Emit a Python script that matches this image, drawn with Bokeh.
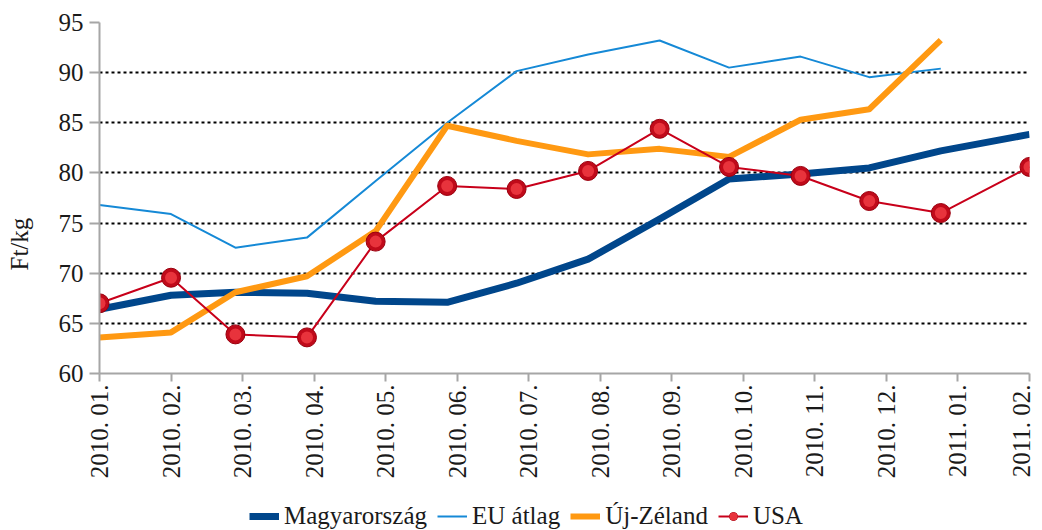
from math import pi
from bokeh.plotting import figure
from bokeh.layouts import column
from bokeh.models import Legend, LegendItem, FixedTicker, Range1d, Title, LinearAxis
from bokeh.embed import file_html
from bokeh.resources import INLINE

# ---- data ----
months = ["2010. 01.", "2010. 02.", "2010. 03.", "2010. 04.", "2010. 05.", "2010. 06.",
          "2010. 07.", "2010. 08.", "2010. 09.", "2010. 10.", "2010. 11.", "2010. 12.",
          "2011. 01.", "2011. 02."]
# observation position (months since 2010. 01.)
obs_month = [0.0, 1.0, 1.9, 2.9, 3.86, 4.86, 5.83, 6.83, 7.83, 8.8, 9.8, 10.76, 11.76, 13.0]
magyarorszag = [66.4, 67.8, 68.1, 68.0, 67.2, 67.1, 69.0, 71.4, 75.4, 79.4, 79.9, 80.5, 82.2, 83.85]
eu_atlag = [76.8, 75.9, 72.55, 73.55, 79.2, 85.0, 90.15, 91.8, 93.2, 90.5, 91.6, 89.55, 90.4]
uj_zeland = [63.6, 64.1, 68.1, 69.7, 74.2, 84.7, 83.2, 81.85, 82.4, 81.6, 85.3, 86.35, 93.25]
usa = [67.0, 69.55, 63.9, 63.6, 73.15, 78.7, 78.4, 80.2, 84.4, 80.6, 79.7, 77.2, 76.0, 80.6]
y_ticks = [60, 65, 70, 75, 80, 85, 90, 95]
series_names = ["Magyarország", "EU átlag", "Új-Zéland", "USA"]

FONT = "'Liberation Serif', serif"
FS = "25px"
TXT = "#1a1a1a"
AX = "#a6a6a6"
C_HU, C_EU, C_NZ, C_US = "#00468b", "#1589d6", "#ff9912", "#c8001a"


def draw_series(fig, marker_size, hi_size):
    r_hu = fig.line(obs_month, magyarorszag, line_color=C_HU, line_width=7, line_join="round")
    r_eu = fig.line(obs_month[:len(eu_atlag)], eu_atlag, line_color=C_EU, line_width=2)
    r_nz = fig.line(obs_month[:len(uj_zeland)], uj_zeland, line_color=C_NZ, line_width=6,
                    line_join="round")
    r_us = fig.line(obs_month, usa, line_color=C_US, line_width=2)
    r_um = fig.scatter(obs_month, usa, size=marker_size, fill_color="#c00a1a",
                       line_color="#9a000e", line_width=1)
    r_uh = fig.scatter(obs_month, usa, size=hi_size, fill_color="#e8333c", line_color=None)
    return r_hu, r_eu, r_nz, [r_us, r_um, r_uh]


p = figure(width=1034, height=498, output_backend="svg", toolbar_location=None,
           x_range=Range1d(0, 13), y_range=Range1d(60, 95),
           min_border_left=97, min_border_right=5, min_border_top=22, min_border_bottom=125)
p.outline_line_color = None
p.background_fill_color = "white"
p.border_fill_color = "white"

# axes
p.xaxis.ticker = FixedTicker(ticks=list(range(len(months))))
p.xaxis.major_label_overrides = {i: m for i, m in enumerate(months)}
p.xaxis.major_label_orientation = pi / 2
p.xaxis.major_label_text_font = FONT
p.xaxis.major_label_text_font_size = FS
p.xaxis.major_label_text_color = TXT
p.xaxis.major_label_standoff = 3
p.xaxis.major_tick_out = 8
p.xaxis.major_tick_in = 0
p.xaxis.minor_tick_line_color = None
p.xaxis.axis_line_color = AX
p.xaxis.axis_line_width = 2
p.xaxis.major_tick_line_color = AX
p.xaxis.major_tick_line_width = 2

p.yaxis.ticker = FixedTicker(ticks=y_ticks)
p.yaxis.major_label_text_font = FONT
p.yaxis.major_label_text_font_size = FS
p.yaxis.major_label_text_color = TXT
p.yaxis.major_label_standoff = 6
p.yaxis.major_tick_out = 10
p.yaxis.major_tick_in = 0
p.yaxis.minor_tick_line_color = None
p.yaxis.axis_line_color = AX
p.yaxis.axis_line_width = 2
p.yaxis.major_tick_line_color = AX
p.yaxis.major_tick_line_width = 2

# invisible spacer between tick labels and the axis title
spacer = LinearAxis(ticker=FixedTicker(ticks=[y_ticks[0]]), axis_line_color=None,
                    major_tick_line_color=None, minor_tick_line_color=None,
                    major_tick_out=16, major_tick_in=0, major_label_standoff=0,
                    major_label_overrides={y_ticks[0]: ""})
p.add_layout(spacer, "left")

# y axis title, placed a little below the middle as in the reference
p.add_layout(Title(text="Ft/kg", align="left", vertical_align="top", offset=103, standoff=10,
                   text_font=FONT, text_font_size=FS, text_font_style="normal",
                   text_color=TXT), "left")

p.xgrid.grid_line_color = None
p.ygrid.ticker = FixedTicker(ticks=y_ticks[1:])
p.ygrid.grid_line_color = "black"
p.ygrid.grid_line_width = 2
p.ygrid.grid_line_dash = "3 3"

draw_series(p, 19, 12)

# legend strip below the chart (same series, drawn out of its view; only the legend shows)
q = figure(width=1034, height=32, output_backend="svg", toolbar_location=None,
           x_axis_type=None, y_axis_type=None, x_range=Range1d(0, 13), y_range=Range1d(0, 1),
           min_border_left=0, min_border_right=0, min_border_top=0, min_border_bottom=0)
q.outline_line_color = None
q.xgrid.grid_line_color = None
q.ygrid.grid_line_color = None
l_hu, l_eu, l_nz, l_us = draw_series(q, 17, 10)
legend = Legend(items=[
    LegendItem(label=series_names[0], renderers=[l_hu]),
    LegendItem(label=series_names[1], renderers=[l_eu]),
    LegendItem(label=series_names[2], renderers=[l_nz]),
    LegendItem(label=series_names[3], renderers=l_us),
], orientation="horizontal", location=(150, 0), border_line_color=None,
    label_text_font=FONT, label_text_font_size=FS, label_text_color=TXT,
    glyph_width=30, glyph_height=20, label_standoff=5, spacing=10, padding=0, margin=0,
    background_fill_alpha=0)
q.add_layout(legend, "center")

open("out.html", "w").write(file_html(column(p, q, spacing=0), INLINE))
